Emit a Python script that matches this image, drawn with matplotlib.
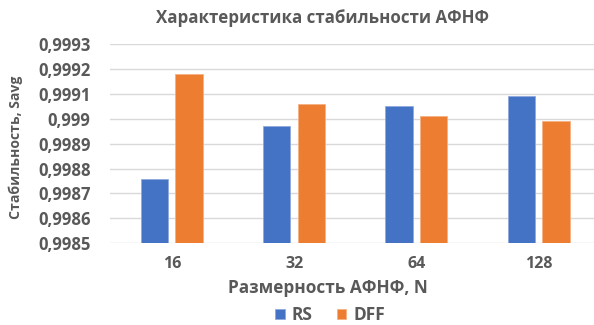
import matplotlib
matplotlib.use("Agg")
import matplotlib.pyplot as plt
import numpy as np

categories = ["16", "32", "64", "128"]
rs_values = [0.99876, 0.99897, 0.99905, 0.99909]
dff_values = [0.99918, 0.99906, 0.99901, 0.99899]
series_names = ["RS", "DFF"]
y_ticks = [0.9985, 0.9986, 0.9987, 0.9988, 0.9989, 0.9990, 0.9991, 0.9992, 0.9993]
y_tick_labels = ["0,9985", "0,9986", "0,9987", "0,9988", "0,9989", "0,999", "0,9991", "0,9992", "0,9993"]

title = "Характеристика стабильности АФНФ"
x_title = "Размерность АФНФ, N"
y_title = "Стабильность, Savg"

plt.rcParams["font.family"] = ["Open Sans", "DejaVu Sans"]
text_color = "#595959"
colors = ["#4472C4", "#ED7D31"]

fig = plt.figure(figsize=(5.94, 3.25), dpi=100)
ax = fig.add_axes([110 / 594, 81.7 / 325, 484 / 594, 199.3 / 325])

x = np.arange(len(categories))
width = 0.223
offset = 0.1415
ax.bar(x - offset, rs_values, width, color=colors[0], label=series_names[0],
       edgecolor="#8FAADC", linewidth=0.6, zorder=3)
ax.bar(x + offset, dff_values, width, color=colors[1], label=series_names[1],
       edgecolor="#F4B183", linewidth=0.6, zorder=3)

ax.set_xlim(-0.505, 3.452)
ax.set_ylim(0.9985, 0.9993)
ax.set_yticks(y_ticks)
ax.set_yticklabels(y_tick_labels)
ax.set_xticks(x)
ax.set_xticklabels(categories)
ax.yaxis.grid(True, color="#D9D9D9", linewidth=1.0, zorder=0)
ax.set_axisbelow(True)
for s in ax.spines.values():
    s.set_visible(False)
ax.tick_params(axis="both", length=0, colors=text_color)
ax.tick_params(axis="y", labelsize=12, pad=14)
ax.tick_params(axis="x", labelsize=11.5, pad=9)
for lbl in ax.get_xticklabels() + ax.get_yticklabels():
    lbl.set_fontweight("bold")

fig.text(0.5 * (157 + 488) / 594, 1 - 18 / 325, title, ha="center", va="center",
         fontsize=12.2, fontweight="bold", color=text_color)
fig.text(328 / 594, 1 - 288 / 325, x_title, ha="center", va="center",
         fontsize=12.4, fontweight="bold", color=text_color)
fig.text(16 / 594, 1 - 147 / 325, y_title, ha="center", va="center", rotation=90,
         fontsize=10.1, fontweight="bold", color=text_color)

leg = fig.legend(loc="center", bbox_to_anchor=(330 / 594, 1 - 315 / 325), ncol=2,
                 frameon=False, fontsize=12.5, handlelength=0.57, handleheight=0.57,
                 columnspacing=1.38, handletextpad=0.4, borderpad=0, borderaxespad=0)
for t in leg.get_texts():
    t.set_color(text_color)
    t.set_fontweight("bold")

fig.savefig("out.png", dpi=100)
